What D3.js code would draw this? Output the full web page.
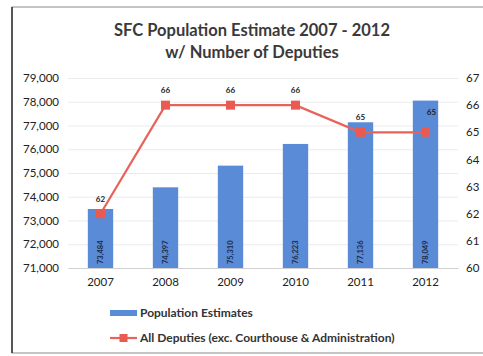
<!DOCTYPE html>
<html>
<head>
<meta charset="utf-8">
<script src="https://cdn.jsdelivr.net/npm/d3@7"></script>
<style>
  html, body { margin: 0; padding: 0; background: #fff; }
  svg { display: block; }
  text { font-family: Lato, "Open Sans", "DejaVu Sans", sans-serif; }
</style>
</head>
<body>
<svg id="chart" width="483" height="356"></svg>
<script>
// Years on the category axis
const years = ["2007", "2008", "2009", "2010", "2011", "2012"];
// Population estimates (bars, left axis)
const population = [73484, 74397, 75310, 76223, 77136, 78049];
// Deputies count (line, right axis)
const deputies = [62, 66, 66, 66, 65, 65];
// Axis ticks
const popTicks = [71000, 72000, 73000, 74000, 75000, 76000, 77000, 78000, 79000];
const depTicks = [60, 61, 62, 63, 64, 65, 66, 67];
// Legend labels
const legendLabels = ["Population Estimates", "All Deputies (exc. Courthouse & Administration)"];

const svg = d3.select("#chart");
const W = 483, H = 356;
const plot = { left: 68, right: 458, top: 78, bottom: 268 };

// frame
svg.append("rect").attr("x", 12).attr("y", 7).attr("width", W + 10).attr("height", 346)
  .attr("fill", "#fff").attr("stroke", "#8a8a8a").attr("stroke-width", 1);
svg.append("line").attr("x1", 12).attr("x2", 12).attr("y1", 7).attr("y2", 353)
  .attr("stroke", "#333").attr("stroke-width", 1.5);

// title
svg.append("text").attr("x", 252).attr("y", 36).attr("text-anchor", "middle")
  .attr("font-size", 16.5).attr("font-weight", "bold").attr("fill", "#3a3a3a")
  .text("SFC Population Estimate 2007 - 2012");
svg.append("text").attr("x", 252).attr("y", 58).attr("text-anchor", "middle")
  .attr("font-size", 16.5).attr("font-weight", "bold").attr("fill", "#3a3a3a")
  .text("w/ Number of Deputies");

const x = d3.scaleBand().domain(years).range([plot.left, plot.right]).paddingInner(0.61).paddingOuter(0.305);
const xc = d => x(d) + x.bandwidth() / 2;
const yL = d3.scaleLinear().domain([71000, 79000]).range([plot.bottom, plot.top]);
const yR = d3.scaleLinear().domain([60, 67]).range([plot.bottom, plot.top]);

// gridlines
svg.append("g").selectAll("line").data(popTicks).join("line")
  .attr("x1", plot.left).attr("x2", plot.right)
  .attr("y1", d => yL(d) + 0.5).attr("y2", d => yL(d) + 0.5)
  .attr("stroke", "#ebebeb").attr("stroke-width", 1);

// left axis
const axL = svg.append("g").attr("transform", `translate(${plot.left},0)`)
  .call(d3.axisLeft(yL).tickValues(popTicks).tickFormat(d3.format(",")).tickSize(0).tickPadding(9));
axL.select(".domain").remove();
axL.selectAll("text").attr("font-size", 11.5).attr("fill", "#222")
  .style("font-family", "Lato, 'Open Sans', sans-serif");

// right axis
const axR = svg.append("g").attr("transform", `translate(${plot.right},0)`)
  .call(d3.axisRight(yR).tickValues(depTicks).tickFormat(d3.format("d")).tickSize(0).tickPadding(8));
axR.select(".domain").remove();
axR.selectAll("text").attr("font-size", 11.5).attr("fill", "#222")
  .style("font-family", "Lato, 'Open Sans', sans-serif");

// bottom axis
const axB = svg.append("g").attr("transform", `translate(0,${plot.bottom})`)
  .call(d3.axisBottom(x).tickSize(0).tickPadding(10));
axB.select(".domain").attr("stroke", "#d0d0d0");
axB.selectAll("text").attr("font-size", 11.5).attr("fill", "#222")
  .style("font-family", "Lato, 'Open Sans', sans-serif");

// bars
svg.append("g").selectAll("rect").data(population).join("rect")
  .attr("x", (d, i) => x(years[i]))
  .attr("y", d => yL(d))
  .attr("width", x.bandwidth())
  .attr("height", d => plot.bottom - yL(d))
  .attr("fill", "#5a8bd6");

// bar value labels, rotated inside the bars
svg.append("g").selectAll("text").data(population).join("text")
  .attr("transform", (d, i) => `translate(${xc(years[i]) + 2.5},${plot.bottom - 4}) rotate(-90)`)
  .attr("font-size", 7.5).attr("font-weight", "bold").attr("fill", "#1c2c4a")
  .text(d => d3.format(",")(d));

// deputies line
const line = d3.line().x((d, i) => xc(years[i])).y(d => yR(d));
svg.append("path").datum(deputies).attr("d", line)
  .attr("fill", "none").attr("stroke", "#e8625a").attr("stroke-width", 2.2);
svg.append("g").selectAll("rect").data(deputies).join("rect")
  .attr("x", (d, i) => xc(years[i]) - 4.5)
  .attr("y", d => yR(d) - 4.5)
  .attr("width", 9).attr("height", 9)
  .attr("fill", "#ea5a50");

// deputies value labels
svg.append("g").selectAll("text").data(deputies).join("text")
  .attr("x", (d, i) => xc(years[i]) + (i === 5 ? 6 : 0))
  .attr("y", (d, i) => yR(d) - (i === 5 ? 17 : 12))
  .attr("text-anchor", "middle")
  .attr("font-size", 8).attr("font-weight", "bold").attr("fill", "#222")
  .text(d => d);

// legend
const lg = svg.append("g");
lg.append("rect").attr("x", 110).attr("y", 310).attr("width", 27).attr("height", 6).attr("fill", "#5a8bd6");
lg.append("text").attr("x", 140).attr("y", 317).attr("font-size", 12).attr("font-weight", "bold")
  .attr("fill", "#333").text(legendLabels[0]);
lg.append("line").attr("x1", 110).attr("x2", 137).attr("y1", 338).attr("y2", 338)
  .attr("stroke", "#e8625a").attr("stroke-width", 2.2);
lg.append("rect").attr("x", 119.5).attr("y", 334).attr("width", 8).attr("height", 8).attr("fill", "#ea5a50");
lg.append("text").attr("x", 140).attr("y", 342).attr("font-size", 12).attr("font-weight", "bold")
  .attr("fill", "#333").text(legendLabels[1]);
</script>
</body>
</html>
